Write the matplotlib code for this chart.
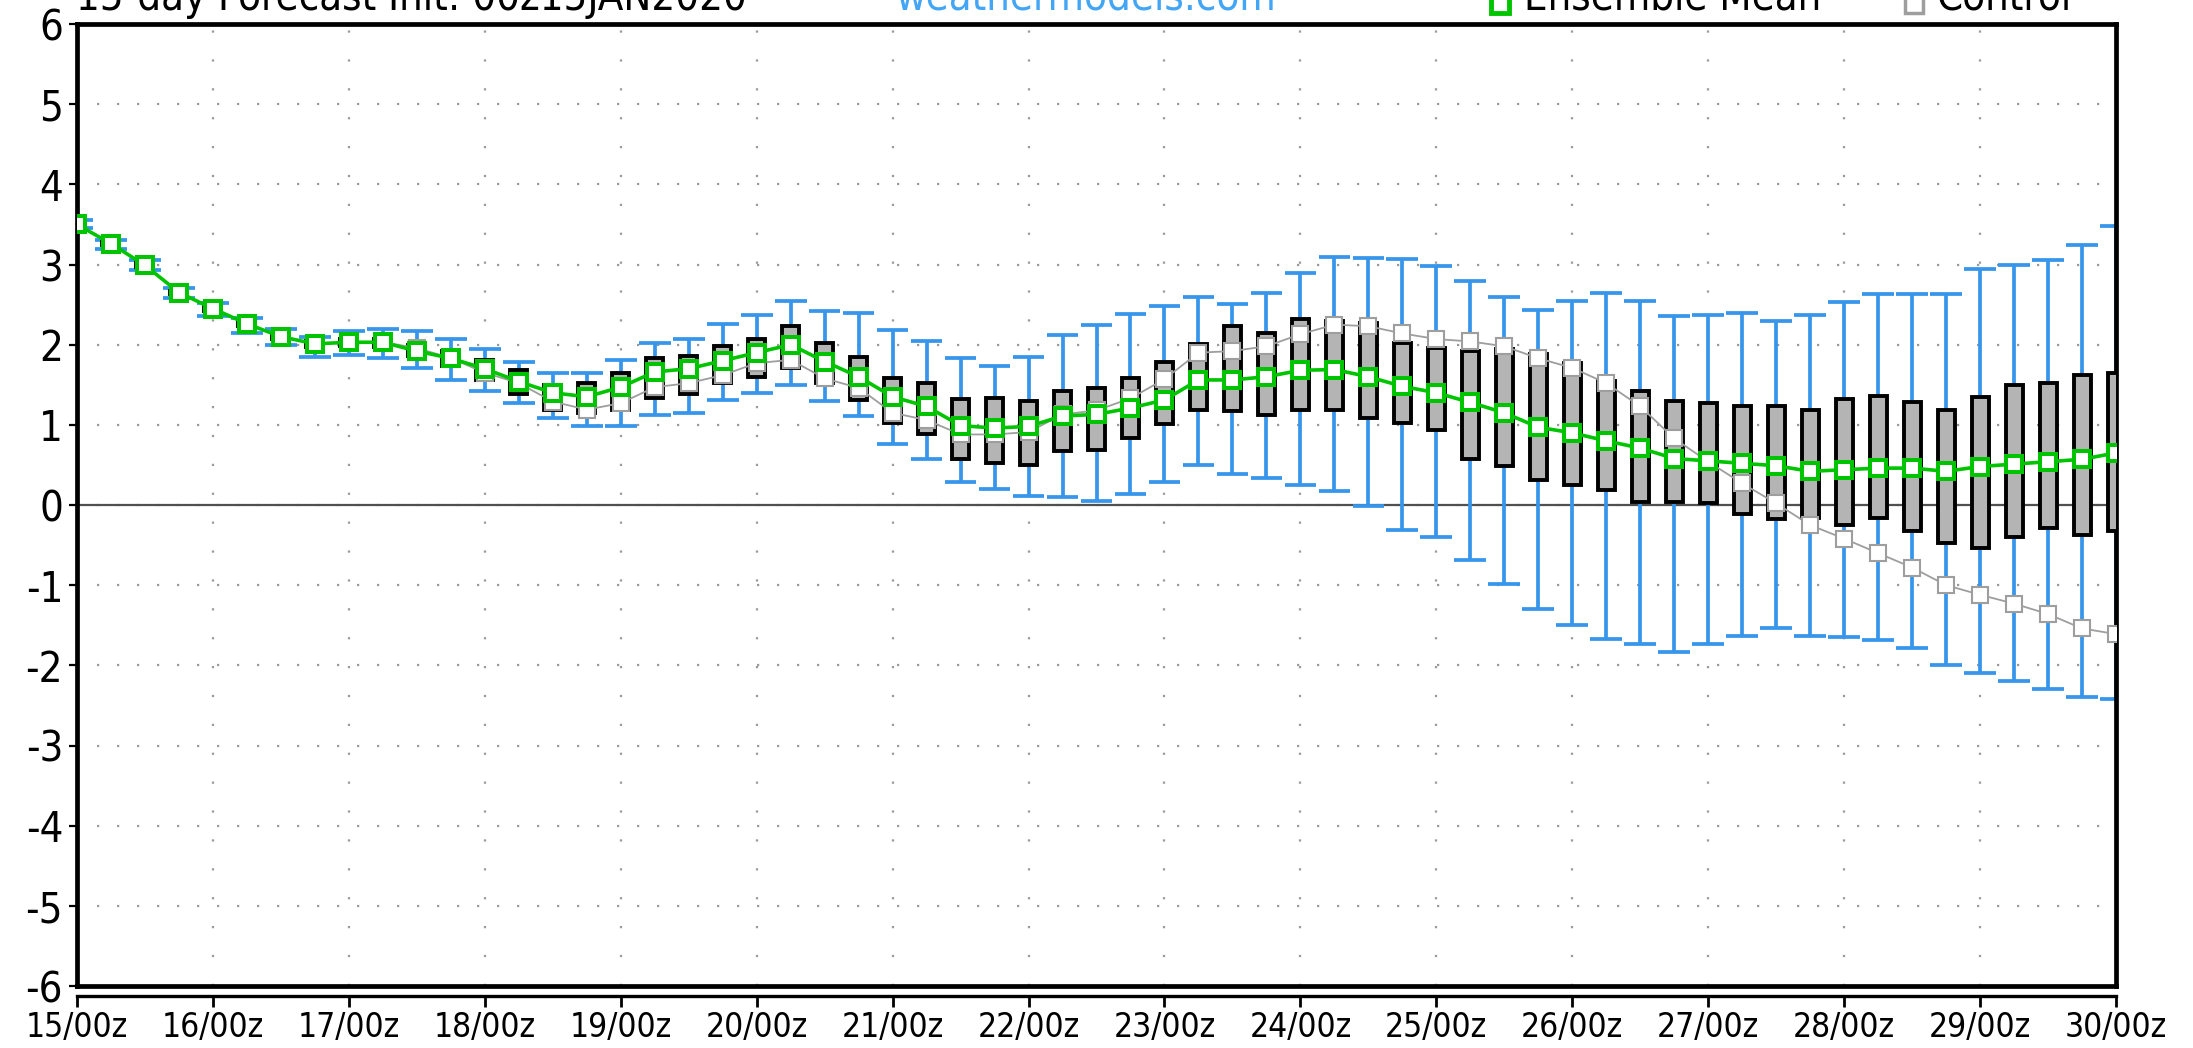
import numpy as np
import matplotlib
matplotlib.use('Agg')
import matplotlib.pyplot as plt
from matplotlib.lines import Line2D

plt.rcParams['axes.unicode_minus'] = False
plt.rcParams['font.family'] = ['DejaVu Sans']
plt.rcParams['font.stretch'] = 'condensed'

# 6-hourly forecast steps, 15/00z .. 30/00z
hours = np.arange(0, 361, 6)
day_labels = ['%d/00z' % d for d in range(15, 31)]

whisker_hi = [3.55, 3.31, 3.06, 2.71, 2.52, 2.33, 2.19, 2.10, 2.17, 2.20,
              2.17, 2.07, 1.94, 1.79, 1.65, 1.65, 1.81, 2.02, 2.07, 2.26,
              2.37, 2.54, 2.42, 2.39, 2.18, 2.05, 1.83, 1.74, 1.85, 2.12,
              2.24, 2.38, 2.48, 2.60, 2.51, 2.65, 2.90, 3.09, 3.08, 3.07,
              2.98, 2.80, 2.60, 2.43, 2.55, 2.64, 2.55, 2.36, 2.37, 2.40,
              2.29, 2.37, 2.53, 2.63, 2.63, 2.63, 2.95, 3.00, 3.06, 3.24,
              3.48]
box_hi = [3.52, 3.28, 3.02, 2.67, 2.47, 2.28, 2.13, 2.05, 2.07, 2.07,
          2.00, 1.92, 1.81, 1.68, 1.50, 1.52, 1.65, 1.83, 1.86, 1.98,
          2.07, 2.23, 2.02, 1.85, 1.58, 1.52, 1.32, 1.33, 1.30, 1.42,
          1.46, 1.58, 1.78, 2.01, 2.23, 2.14, 2.32, 2.29, 2.27, 2.02,
          1.96, 1.92, 1.94, 1.88, 1.77, 1.55, 1.42, 1.30, 1.27, 1.23,
          1.23, 1.18, 1.32, 1.36, 1.29, 1.18, 1.35, 1.50, 1.52, 1.62,
          1.65]
box_lo = [3.49, 3.24, 2.97, 2.63, 2.42, 2.23, 2.07, 1.97, 1.98, 1.97,
          1.86, 1.73, 1.56, 1.38, 1.19, 1.15, 1.19, 1.33, 1.38, 1.52,
          1.60, 1.71, 1.52, 1.31, 1.02, 0.88, 0.58, 0.53, 0.50, 0.67,
          0.68, 0.84, 1.01, 1.18, 1.17, 1.12, 1.18, 1.18, 1.08, 1.02,
          0.93, 0.58, 0.49, 0.31, 0.25, 0.19, 0.04, 0.04, 0.03, -0.11,
          -0.18, -0.16, -0.25, -0.16, -0.33, -0.47, -0.54, -0.40, -0.29, -0.38,
          -0.33]
whisker_lo = [3.46, 3.19, 2.93, 2.58, 2.36, 2.15, 2.00, 1.85, 1.87, 1.83,
              1.71, 1.56, 1.42, 1.27, 1.08, 0.98, 0.99, 1.12, 1.15, 1.31,
              1.40, 1.50, 1.30, 1.11, 0.76, 0.57, 0.29, 0.20, 0.11, 0.10,
              0.05, 0.14, 0.29, 0.50, 0.39, 0.34, 0.25, 0.17, -0.01, -0.31,
              -0.40, -0.69, -0.99, -1.30, -1.50, -1.67, -1.73, -1.83, -1.74, -1.63,
              -1.54, -1.64, -1.65, -1.69, -1.79, -1.99, -2.09, -2.19, -2.30, -2.40,
              -2.42]
ens_mean = [3.50, 3.26, 2.99, 2.65, 2.45, 2.26, 2.10, 2.01, 2.03, 2.03,
            1.92, 1.83, 1.70, 1.54, 1.40, 1.35, 1.47, 1.66, 1.70, 1.80,
            1.90, 2.00, 1.79, 1.60, 1.35, 1.23, 0.99, 0.96, 0.98, 1.11,
            1.13, 1.21, 1.31, 1.56, 1.56, 1.60, 1.68, 1.69, 1.60, 1.48,
            1.40, 1.28, 1.15, 0.97, 0.90, 0.80, 0.71, 0.58, 0.55, 0.52,
            0.49, 0.42, 0.44, 0.46, 0.46, 0.42, 0.48, 0.51, 0.54, 0.57,
            0.65]
control = [3.50, 3.26, 2.99, 2.65, 2.45, 2.26, 2.10, 2.01, 2.03, 2.03,
           1.96, 1.83, 1.65, 1.52, 1.29, 1.19, 1.27, 1.47, 1.52, 1.62,
           1.77, 1.81, 1.58, 1.46, 1.15, 1.06, 0.88, 0.88, 0.91, 1.13,
           1.18, 1.33, 1.57, 1.90, 1.92, 1.98, 2.13, 2.25, 2.23, 2.14,
           2.07, 2.04, 1.98, 1.83, 1.71, 1.52, 1.23, 0.83, 0.54, 0.27,
           0.02, -0.25, -0.42, -0.60, -0.78, -1.00, -1.12, -1.23, -1.36, -1.54,
           -1.61]

blue = '#3796eb'
green = '#00c400'
ctrl_grey = '#9e9e9e'

W, H = 2193, 1048
fig = plt.figure(figsize=(W / 100, H / 100), dpi=100)
ax = fig.add_axes([77 / W, 62 / H, 2039 / W, 962 / H])

ax.set_xlim(0, 360)
ax.set_ylim(-6, 6)

# grid: dotted, day verticals and unit horizontals
ax.set_axisbelow(True)
ax.xaxis.grid(True, color='#9a9a9a', linestyle=(0, (1, 12)), linewidth=1.6)
ax.yaxis.grid(True, color='#9a9a9a', linestyle=(0, (1, 8)), linewidth=1.6)
ax.axhline(0, color='#505050', linewidth=1.6, zorder=1)

# whiskers with caps
ax.vlines(hours, whisker_lo, whisker_hi, color=blue, linewidth=2.7, zorder=2)
ax.hlines(whisker_hi, hours - 2.8, hours + 2.8, color=blue, linewidth=2.7, zorder=2)
ax.hlines(whisker_lo, hours - 2.8, hours + 2.8, color=blue, linewidth=2.7, zorder=2)

# inter-quartile boxes
box_h = np.array(box_hi) - np.array(box_lo)
ax.bar(hours, box_h, bottom=box_lo, width=3.0, color='#b4b4b4',
       edgecolor='black', linewidth=2.8, zorder=3)

ax.plot(hours, control, color=ctrl_grey, linewidth=1.3, marker='s',
        markersize=11.5, markerfacecolor='white', markeredgecolor=ctrl_grey,
        markeredgewidth=1.5, zorder=4)
ax.plot(hours, ens_mean, color=green, linewidth=2.6, marker='s',
        markersize=11, markerfacecolor='white', markeredgecolor=green,
        markeredgewidth=2.9, zorder=5)

# frame + separate time axis below it
for s in ['left', 'top', 'right']:
    ax.spines[s].set_linewidth(3.4)
    ax.spines[s].set_color('black')
ax.spines['bottom'].set_position(('outward', 7))
ax.spines['bottom'].set_linewidth(2.4)
ax.axhline(-6, color='black', linewidth=3.4, clip_on=False, zorder=6)

ax.set_xticks(hours[::4])
ax.set_xticklabels(day_labels)
ax.set_yticks(range(-6, 7))
ax.tick_params(axis='x', direction='out', length=8, width=2, labelsize=24, pad=3)
ax.tick_params(axis='y', direction='out', length=6, width=1.6, labelsize=30, pad=4)

# header line
base = 1 - 10 / H
hdr = 30
fig.text(76 / W, base, '15-day Forecast Init: 00z15JAN2020', fontsize=hdr,
         va='baseline', ha='left')
fig.text(895 / W, base, 'weathermodels.com', fontsize=hdr, color='#42a5f5',
         va='baseline', ha='left')
fig.add_artist(Line2D([1500 / W], [1 - 4 / H], transform=fig.transFigure,
                      marker='s', markersize=13, markerfacecolor='white',
                      markeredgecolor=green, markeredgewidth=3.5, linestyle='none'))
fig.text(1524 / W, base, 'Ensemble Mean', fontsize=hdr, va='baseline', ha='left')
fig.add_artist(Line2D([1914 / W], [1 - 4 / H], transform=fig.transFigure,
                      marker='s', markersize=13, markerfacecolor='white',
                      markeredgecolor=ctrl_grey, markeredgewidth=2.5, linestyle='none'))
fig.text(1937 / W, base, 'Control', fontsize=hdr, va='baseline', ha='left')

fig.savefig('out.png', dpi=100)
